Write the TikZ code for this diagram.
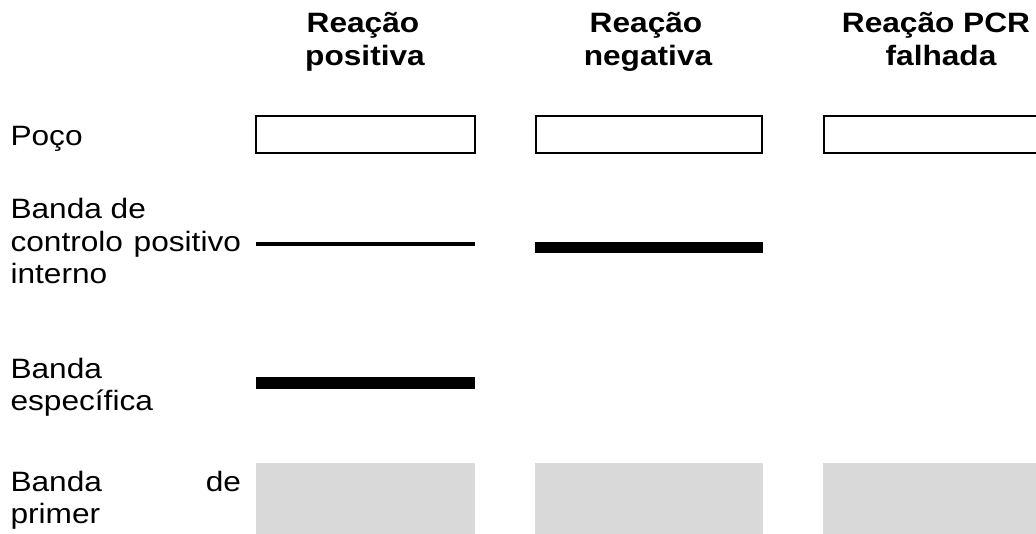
\documentclass[tikz,border=0pt]{standalone}
\usepackage{fontspec}
\setmainfont{Liberation Sans}
\usepackage{graphicx}
\newcommand{\sx}[1]{\scalebox{1.13}[1]{#1}}
\definecolor{gelgray}{HTML}{D9D9D9}
\begin{document}
\begin{tikzpicture}[x=1pt, y=-1pt,
  lbl/.style={inner sep=0pt, outer sep=0pt, font=\fontsize{28}{32}\selectfont, anchor=base west},
  lblr/.style={lbl, anchor=base east},
  hdr/.style={inner sep=0pt, outer sep=0pt, font=\bfseries\fontsize{28}{32}\selectfont, anchor=base},
  well/.style={draw=black, line width=2pt},
  thinband/.style={fill=black},
  thickband/.style={fill=black},
  primerbox/.style={fill=gelgray}]
\useasboundingbox (0,0) rectangle (1036,534);
\clip (0,0) rectangle (1036,534);

% headers
\node[hdr] (h1a) at (363,33) {\sx{Reação}};
\node[hdr] (h1b) at (365,65.7) {\sx{positiva}};
\node[hdr] (h2a) at (646,33) {\sx{Reação}};
\node[hdr] (h2b) at (648,65.7) {\sx{negativa}};
\node[hdr] (h3a) at (936,33) {\sx{Reação PCR}};
\node[hdr] (h3b) at (941,65.7) {\sx{falhada}};

% row labels
\node[lbl] (poco) at (10.5,146) {\sx{Poço}};
\node[lbl] (cp1) at (10.5,219) {\sx{Banda de}};
\node[lbl] (cp2a) at (10.5,251.5) {\sx{controlo}};
\node[lblr] (cp2b) at (241,251.5) {\sx{positivo}};
\node[lbl] (cp3) at (10.5,284) {\sx{interno}};
\node[lbl] (sp1) at (10.5,378) {\sx{Banda}};
\node[lbl] (sp2) at (10.5,410.7) {\sx{específica}};
\node[lbl] (pr1a) at (10.5,491) {\sx{Banda}};
\node[lblr] (pr1b) at (241,491) {\sx{de}};
\node[lbl] (pr2) at (10.5,523) {\sx{primer}};

% wells
\path[well] (256,116) rectangle (475,153);
\path[well] (536,116) rectangle (762,153);
\path[well] (824,116) rectangle (1050,153);

% internal positive control bands
\path[thinband] (256,242) rectangle (475,246);
\path[thickband] (535,242) rectangle (763,253.5);

% specific band
\path[thickband] (256,377) rectangle (475,389);

% primer bands
\path[primerbox] (256,463) rectangle (475,534);
\path[primerbox] (535,463) rectangle (763,534);
\path[primerbox] (823,463) rectangle (1050,534);
\end{tikzpicture}
\end{document}
